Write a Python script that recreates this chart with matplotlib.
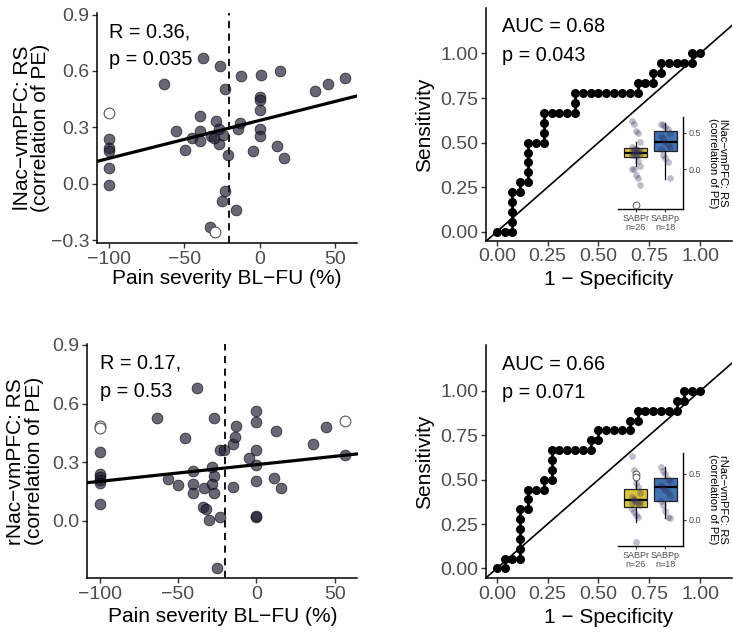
import numpy as np
import matplotlib
matplotlib.use("Agg")
import matplotlib.pyplot as plt

plt.rcParams['font.family'] = ['Liberation Sans', 'DejaVu Sans']

W, H = 733, 632

# ---- left scatter panels: pain severity change vs resting-state coupling ----
lnac_x = [-100, -100, -100, -100, -100, -63.3, -37.3, -26.2, -23.3, -39.6, -55.6, -49.6,
          -45, -39.6, -39.6, -32.2, -28.9, -26.7, -26.7, -30, -24.4, -20.7, -22.9, -24.9,
          -32.9, -15.6, -12.2, 0.7, 13.3, 0, 0, 0, -13.3, -14.4, 0, 0, -4.4, 11.8, 16.2,
          36.7, 45.1, 56.7]
lnac_y = [0.24, 0.19, 0.175, 0.085, -0.005, 0.532, 0.671, 0.628, 0.506, 0.363, 0.28, 0.179,
          0.245, 0.28, 0.228, 0.254, 0.332, 0.289, 0.21, 0.245, 0.262, 0.153, -0.038, -0.089,
          -0.228, -0.141, 0.575, 0.579, 0.601, 0.463, 0.445, 0.393, 0.323, 0.292, 0.292,
          0.254, 0.176, 0.202, 0.136, 0.494, 0.532, 0.563]
lnac_open_x = [-100, -29.6]
lnac_open_y = [0.379, -0.256]
lnac_fit = (0.337, 0.00202)     # intercept, slope
lnac_stats = ["R = 0.36,", "p = 0.035"]

rnac_x = [-100, -100, -100, -100, -100, -100, -63.5, -38.1, -26.9, -45.6, -56.2, -50.2,
          -40.3, -40.3, -40.3, -33.5, -28.6, -26.9, -28, -26.9, -33.9, -32.2, -30.1, -23.3,
          -25, -23.3, -20.8, -15.2, -14.9, -13.6, -12.7, 0, 0, 0, 0, 0, 0, 0, -4.7, 12.3,
          11.2, 15.4, 36.4, 44.5, 56.3]
rnac_y = [0.353, 0.24, 0.225, 0.21, 0.195, 0.084, 0.524, 0.681, 0.527, 0.422, 0.212, 0.183,
          0.256, 0.188, 0.14, 0.169, 0.277, 0.23, 0.186, 0.14, 0.072, 0.06, 0.004, 0.02,
          -0.24, 0.362, 0.362, 0.174, 0.393, 0.427, 0.485, 0.562, 0.506, 0.362, 0.286,
          0.203, 0.02, 0.025, 0.319, 0.459, 0.22, 0.166, 0.393, 0.478, 0.338]
rnac_open_x = [-100, -100, 56.3]
rnac_open_y = [0.485, 0.473, 0.511]
rnac_fit = (0.287, 0.000856)
rnac_stats = ["R = 0.17,", "p = 0.53"]

cutoff = -20

# ---- right ROC panels (counts of false / true positives, n=26 / n=18) ----
n_neg, n_pos = 26, 18
roc1_fp = [0, 1, 2, 2, 2, 2, 2, 3, 3, 4, 4, 4, 4, 4, 5, 6, 6, 6, 6, 7, 8, 9, 10, 10, 10, 11, 12,
           13, 14, 15, 16, 17, 18, 18, 19, 20, 20, 21, 21, 22, 23, 24, 25, 25, 26]
roc1_tp = [0, 0, 0, 1, 2, 3, 4, 4, 5, 5, 6, 7, 8, 9, 9, 9, 10, 11, 12, 12, 12, 12, 12, 13, 14, 14,
           14, 14, 14, 14, 14, 14, 14, 15, 15, 15, 16, 16, 17, 17, 17, 17, 17, 18, 18]
roc2_fp = [0, 1, 1, 2, 3, 3, 3, 3, 3, 3, 4, 4, 4, 5, 6, 6, 7, 7, 7, 7, 8, 9, 10, 11, 12, 12, 13,
           13, 14, 15, 16, 17, 17, 18, 18, 19, 20, 21, 22, 23, 23, 24, 24, 25, 26]
roc2_tp = [0, 0, 1, 1, 1, 2, 3, 4, 5, 6, 6, 7, 8, 8, 8, 9, 9, 10, 11, 12, 12, 12, 12, 12, 12, 13,
           13, 14, 14, 14, 14, 14, 15, 15, 16, 16, 16, 16, 16, 16, 17, 17, 18, 18, 18]
roc1_stats = ["AUC = 0.68", "p = 0.043"]
roc2_stats = ["AUC = 0.66", "p = 0.071"]

# ---- inset boxplots (SABPr vs SABPp) ----
groups = ["SABPr\nn=26", "SABPp\nn=18"]
box1 = [dict(med=0.22, q1=0.175, q3=0.285, whislo=0.05, whishi=0.37),
        dict(med=0.366, q1=0.245, q3=0.514, whislo=-0.125, whishi=0.63)]
box1_pts = [[0.657, 0.61, 0.52, 0.5, 0.366, 0.3, 0.28, 0.27, 0.26, 0.25, 0.24, 0.23, 0.23, 0.22,
             0.21, 0.2, 0.19, 0.18, 0.12, 0.05, 0.01, 0.0, -0.08, -0.12, -0.21],
            [0.62, 0.6, 0.58, 0.55, 0.5, 0.45, 0.42, 0.37, 0.33, 0.3, 0.28, 0.2, 0.15, 0.1,
             -0.12]]
box1_open = [[-0.48], []]
box2 = [dict(med=0.217, q1=0.145, q3=0.34, whislo=-0.02, whishi=0.525),
        dict(med=0.355, q1=0.207, q3=0.453, whislo=0.018, whishi=0.58)]
box2_pts = [[0.696, 0.543, 0.4, 0.36, 0.29, 0.25, 0.22, 0.2, 0.18, 0.163, 0.12, 0.09, 0.05,
             0.036, 0.21, 0.19, 0.23, -0.236],
            [0.58, 0.53, 0.5, 0.45, 0.42, 0.38, 0.36, 0.33, 0.3, 0.26, 0.21, 0.16, 0.1, 0.03,
             0.018]]
box2_open = [[0.5, 0.47], []]
box_colors = ["#d9c53a", "#3f73b3"]

tick_color = "#4d4d4d"
TICK_FS = 14
TITLE_FS = 15
NOTE_FS = 14.3


def px_axes(left, top, right, bottom):
    return fig.add_axes([left / W, 1 - bottom / H, (right - left) / W, (bottom - top) / H])


def classic(ax, fs=TICK_FS):
    for s in ["top", "right"]:
        ax.spines[s].set_visible(False)
    for s in ["left", "bottom"]:
        ax.spines[s].set_linewidth(1.1)
    ax.tick_params(direction="out", length=3.5, width=1.0, color="#333333",
                   labelsize=fs, labelcolor=tick_color, pad=2)


def place_labels(ax, ylx, xly):
    ax.yaxis.label.set_va("center")
    ax.xaxis.label.set_va("center")
    ax.yaxis.set_label_coords(ylx, 0.5)
    ax.xaxis.set_label_coords(0.5, xly)


def scatter_panel(ax, x, y, ox, oy, fit, stats, ylab, ylim, yticks, ylx, xly):
    ax.set_xlim(-107.8, 64.5)
    ax.set_ylim(*ylim)
    ax.axvline(cutoff, color="black", lw=1.3, ls=(0, (4, 3)), zorder=1)
    xs = np.array(ax.get_xlim())
    ax.plot(xs, fit[0] + fit[1] * xs, color="black", lw=2.3, zorder=3)
    ax.scatter(x, y, s=60, facecolor="#221e35", edgecolor="black", linewidth=0.6,
               alpha=0.68, zorder=2)
    ax.scatter(ox, oy, s=60, facecolor="white", edgecolor="#555555", linewidth=0.8, zorder=2)
    ax.set_xticks([-100, -50, 0, 50])
    ax.set_xticklabels(["\u2212100", "\u221250", "0", "50"])
    ax.set_yticks(yticks)
    ax.set_yticklabels([("%.1f" % t).replace("-", "\u2212") for t in yticks])
    classic(ax)
    ax.set_xlabel("Pain severity BL\u2212FU (%)", fontsize=TITLE_FS)
    ax.set_ylabel(ylab, fontsize=TITLE_FS, linespacing=0.95)
    place_labels(ax, ylx, xly)
    ax.text(-100, 0.81, stats[0], fontsize=NOTE_FS, va="center")
    ax.text(-100, 0.66, stats[1], fontsize=NOTE_FS, va="center")


def roc_panel(ax, fp, tp, stats, ylim, xly):
    ax.set_xlim(-0.053, 1.157)
    ax.set_ylim(*ylim)
    ax.axline((0, 0), slope=1, color="black", lw=1.2, zorder=1)
    fpr = np.array(fp) / n_neg
    tpr = np.array(tp) / n_pos
    ax.plot(fpr, tpr, color="black", lw=2.0, zorder=2)
    ax.scatter(fpr, tpr, s=30, color="black", zorder=3)
    ticks = [0, 0.25, 0.5, 0.75, 1.0]
    ax.set_xticks(ticks)
    ax.set_xticklabels(["%.2f" % t for t in ticks])
    ax.set_yticks(ticks)
    ax.set_yticklabels(["%.2f" % t for t in ticks])
    classic(ax)
    ax.set_xlabel("1 \u2212 Specificity", fontsize=TITLE_FS)
    ax.set_ylabel("Sensitivity", fontsize=TITLE_FS)
    place_labels(ax, -0.248, xly)
    ax.text(0.026, 1.15, stats[0], fontsize=NOTE_FS, va="center")
    ax.text(0.026, 0.99, stats[1], fontsize=NOTE_FS, va="center")


def inset_box(ax, stats, pts, opens, ylab, ylim):
    ax.set_xlim(0.4, 2.6)
    ax.set_ylim(*ylim)
    bp = ax.bxp(stats, positions=[1, 2], widths=0.78, patch_artist=True, showfliers=False,
                showcaps=False, zorder=2,
                boxprops=dict(edgecolor="#222222", linewidth=0.9),
                medianprops=dict(color="black", linewidth=1.6),
                whiskerprops=dict(color="black", linewidth=0.9))
    for patch, c in zip(bp["boxes"], box_colors):
        patch.set_facecolor(c)
    for i, (vals, ov) in enumerate(zip(pts, opens)):
        k = len(vals)
        offs = (np.arange(k) % 5 - 2) * 0.07
        ax.scatter(i + 1 + offs, vals, s=24, color="#2f2a55", alpha=0.3, linewidth=0, zorder=3)
        if ov:
            ax.scatter([i + 1] * len(ov), ov, s=24, facecolor="white", edgecolor="#555555",
                       linewidth=0.7, zorder=3)
    ax.spines["top"].set_visible(False)
    ax.spines["left"].set_visible(False)
    ax.spines["right"].set_linewidth(1.0)
    ax.spines["bottom"].set_linewidth(1.0)
    ax.yaxis.tick_right()
    ax.yaxis.set_label_position("right")
    ax.set_yticks([0.0, 0.5])
    ax.set_yticklabels(["0.0", "0.5"])
    ax.set_xticks([1, 2])
    ax.set_xticklabels(groups, linespacing=1.0)
    ax.tick_params(direction="out", length=2, width=0.8, color="#333333", labelsize=6.5,
                   labelcolor=tick_color, pad=1.5)
    ax.set_ylabel(ylab, fontsize=8, rotation=270, labelpad=20, linespacing=1.0)
    ax.patch.set_alpha(0)


fig = plt.figure(figsize=(W / 100, H / 100), dpi=100)

ax1 = px_axes(97, 12.7, 357, 243)
scatter_panel(ax1, lnac_x, lnac_y, lnac_open_x, lnac_open_y, lnac_fit, lnac_stats,
              "lNac\u2212vmPFC: RS\n(correlation of PE)", (-0.315, 0.91),
              [-0.3, 0.0, 0.3, 0.6, 0.9], -0.251, -0.156)

ax3 = px_axes(87.3, 344, 357.5, 578.3)
scatter_panel(ax3, rnac_x, rnac_y, rnac_open_x, rnac_open_y, rnac_fit, rnac_stats,
              "rNac\u2212vmPFC: RS\n(correlation of PE)", (-0.295, 0.905),
              [0.0, 0.3, 0.6, 0.9], -0.231, -0.165)

ax2 = px_axes(486, 8.3, 732, 240.7)
roc_panel(ax2, roc1_fp, roc1_tp, roc1_stats, (-0.05, 1.253), -0.165)

ax4 = px_axes(486, 345, 732, 578.3)
roc_panel(ax4, roc2_fp, roc2_tp, roc2_stats, (-0.056, 1.259), -0.166)

in1 = px_axes(618, 117, 683.3, 209.3)
inset_box(in1, box1, box1_pts, box1_open, "lNac\u2212vmPFC: RS\n(correlation of PE)",
          (-0.54, 0.71))

in2 = px_axes(618, 453.3, 683.3, 546)
inset_box(in2, box2, box2_pts, box2_open, "rNac\u2212vmPFC: RS\n(correlation of PE)",
          (-0.283, 0.725))

fig.savefig("out.png", dpi=100)
